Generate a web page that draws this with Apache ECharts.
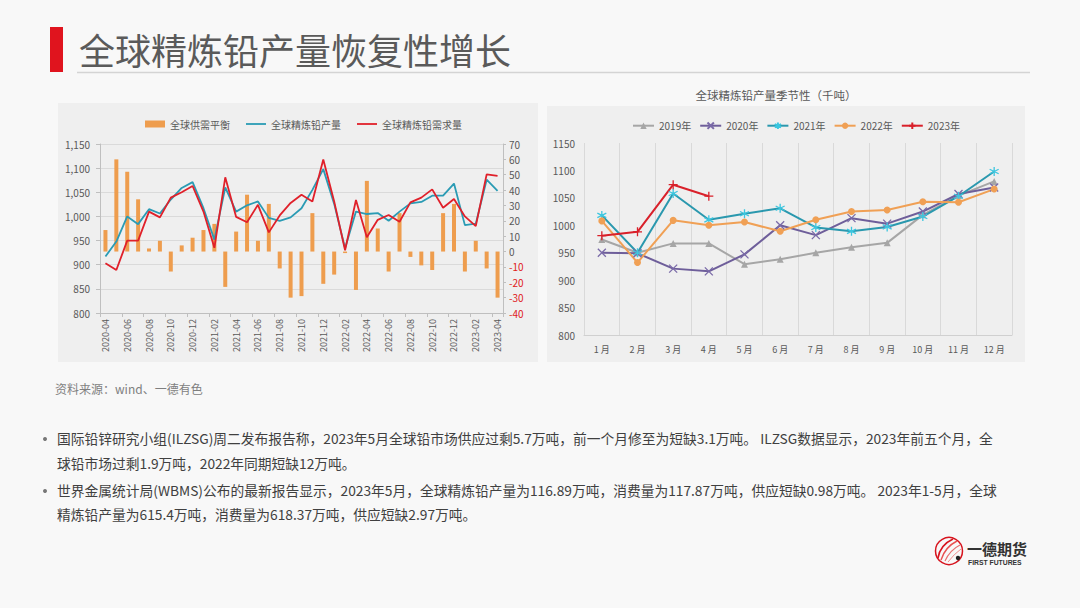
<!DOCTYPE html>
<html><head><meta charset="utf-8">
<script src="https://cdn.jsdelivr.net/npm/echarts@6/dist/echarts.min.js"></script>
<style>html,body{margin:0;padding:0;background:#f8f8f8;}#c{width:1080px;height:608px;}</style>
</head><body><div id="c"></div>
<script>
// ---- left chart data ----
const months = ['2020-04','2020-05','2020-06','2020-07','2020-08','2020-09','2020-10','2020-11','2020-12',
 '2021-01','2021-02','2021-03','2021-04','2021-05','2021-06','2021-07','2021-08','2021-09','2021-10','2021-11','2021-12',
 '2022-01','2022-02','2022-03','2022-04','2022-05','2022-06','2022-07','2022-08','2022-09','2022-10','2022-11','2022-12',
 '2023-01','2023-02','2023-03','2023-04'];
const balance = [14,60,52,34,2,7,-13,4,9, 14,18,-23,13,37,7,31,-11,-30,-29,25,-21, -15,-1,-25,46,15,-13,25,-3.5,-9,-12,25,31, -13,7,-11,-30];
const production = [917,948,1000,984,1015,1006,1035,1059,1071, 1017,952,1060,1010,1023,1031,997,991,998,1017,1055,1098, 1026,934,1010,1005,1007,991,1010,1027,1030,1043,1043,1068, 982,985,1076,1053];
const demand = [903,889,950,950,1010,998,1039,1050,1063, 1010,935,1081,999,988,1024,967,1002,1028,1045,1031,1118, 1031,930,1034,957,993,1003,989,1029,1039,1056,1018,1036, 1000,980,1087,1084];
const leftNames = ['全球供需平衡','全球精炼铅产量','全球精炼铅需求量'];
// ---- right chart data ----
const seasonMonths = ['1 月','2 月','3 月','4 月','5 月','6 月','7 月','8 月','9 月','10 月','11 月','12 月'];
const yearNames = ['2019年','2020年','2021年','2022年','2023年'];
const y2019 = [974,950,967,967,929,938,950,960,968,1019,1054,1080];
const y2020 = [950,949,921,916,947,1000,982,1013,1003,1025,1057,1069];
const y2021 = [1018,950,1058,1010,1021,1031,996,989,997,1016,1053,1098];
const y2022 = [1008,932,1009,1000,1006,989,1010,1025,1028,1043,1042,1066];
const y2023 = [981,988,1074,1053];
// ---- texts ----
const pageTitle = '全球精炼铅产量恢复性增长';
const rightTitle = '全球精炼铅产量季节性（千吨）';
const sourceText = '资料来源：wind、一德有色';
const bulletLines = [
 '国际铅锌研究小组(ILZSG)周二发布报告称，2023年5月全球铅市场供应过剩5.7万吨，前一个月修至为短缺3.1万吨。 ILZSG数据显示，2023年前五个月，全',
 '球铅市场过剩1.9万吨，2022年同期短缺12万吨。',
 '世界金属统计局(WBMS)公布的最新报告显示，2023年5月，全球精炼铅产量为116.89万吨，消费量为117.87万吨，供应短缺0.98万吨。 2023年1-5月，全球',
 '精炼铅产量为615.4万吨，消费量为618.37万吨，供应短缺2.97万吨。'
];

const FONT = '"Noto Sans CJK SC","Microsoft YaHei",sans-serif';
const chart = echarts.init(document.getElementById('c'), null, {renderer:'svg'});
const crossSym = 'path://M0,0L10,10M10,0L0,10';
const starSym = 'path://M5,0L5,10M0,2.5L10,7.5M10,2.5L0,7.5';
const plusSym = 'path://M5,0L5,10M0,5L10,5';
const lineIcon = 'path://M0,0L40,0L40,3.6L0,3.6Z';

function txt(x,y,text,size,color,extra){
  return {type:'text',x:x,y:y,silent:true,style:Object.assign({text:text,fontSize:size,fontFamily:FONT,fill:color,verticalAlign:'middle'},extra||{})};
}
const graphics = [
  {type:'rect',shape:{x:0,y:0,width:1080,height:608},style:{fill:'#f8f8f8'},z:-10,silent:true},
  {type:'rect',shape:{x:58,y:103,width:480,height:259},style:{fill:'#efefef'},z:-9,silent:true},
  {type:'rect',shape:{x:547,y:106,width:478,height:256},style:{fill:'#efefef'},z:-9,silent:true},
  {type:'rect',shape:{x:50,y:27,width:13,height:45},style:{fill:'#e0141e'},silent:true},
  {type:'line',shape:{x1:77,y1:72.5,x2:1030,y2:72.5},style:{stroke:'#d4d4d4',lineWidth:1.5},silent:true},
  txt(79,49,pageTitle,36,'#5a5a5a'),
  txt(776,95,rightTitle,11.5,'#595959',{align:'center'}),
  txt(55,388,sourceText,12,'#7f7f7f'),
  {type:'circle',shape:{cx:45,cy:439,r:2},style:{fill:'#777'},silent:true},
  txt(57,438,bulletLines[0],13.75,'#404040'),
  txt(57,463,bulletLines[1],13.75,'#404040'),
  {type:'circle',shape:{cx:45,cy:491,r:2},style:{fill:'#777'},silent:true},
  txt(57,490,bulletLines[2],13.75,'#404040'),
  txt(57,514,bulletLines[3],13.75,'#404040'),
  // logo
  {type:'circle',shape:{cx:949,cy:551,r:13.5},style:{fill:'none',stroke:'#d7141e',lineWidth:1.5},silent:true},
  {type:'bezierCurve',shape:{x1:938,y1:558,x2:953,y2:539,cpx1:940,cpy1:545},style:{fill:'none',stroke:'#d7141e',lineWidth:1.6},silent:true},
  {type:'bezierCurve',shape:{x1:941,y1:560,x2:957,y2:541,cpx1:945,cpy1:547},style:{fill:'none',stroke:'#e85050',lineWidth:1.4},silent:true},
  {type:'bezierCurve',shape:{x1:945,y1:561,x2:960,y2:545,cpx1:950,cpy1:550},style:{fill:'none',stroke:'#e87070',lineWidth:1.2},silent:true},
  {type:'bezierCurve',shape:{x1:948,y1:562,x2:961,y2:549,cpx1:954,cpy1:554},style:{fill:'none',stroke:'#f09090',lineWidth:1},silent:true},
  {type:'circle',shape:{cx:958,cy:558,r:2.2},style:{fill:'#222'},silent:true},
  txt(967,548.5,'一德期货',15,'#333',{fontWeight:'bold'}),
  txt(968,562,'FIRST FUTURES',6.8,'#333',{fontWeight:'bold',fontFamily:'"Liberation Sans",Arial,sans-serif'})
];

const axisTxt = {color:'#595959',fontSize:10,fontFamily:FONT};
const option = {
  animation:false,
  backgroundColor:'#f8f8f8',
  graphic:graphics,
  legend:[
    {left:140,top:114,itemWidth:20,itemHeight:7,itemGap:16,
     data:[{name:leftNames[0],icon:'rect'},{name:leftNames[1],icon:lineIcon},{name:leftNames[2],icon:lineIcon}],
     textStyle:{color:'#595959',fontSize:10,fontFamily:FONT}},
    {left:627,top:115,itemWidth:21,itemHeight:8,itemGap:8,data:yearNames,
     textStyle:{color:'#595959',fontSize:10,fontFamily:FONT}}
  ],
  grid:[
    {left:100,right:577,top:144,bottom:295},
    {left:584,right:68,top:143,bottom:273}
  ],
  xAxis:[
    {type:'category',gridIndex:0,data:months,boundaryGap:true,
     axisLine:{onZero:false,lineStyle:{color:'#bfbfbf'}},
     axisTick:{show:true,interval:1,length:4,lineStyle:{color:'#bfbfbf'}},
     axisLabel:{interval:1,rotate:90,color:'#595959',fontSize:9,fontFamily:FONT,margin:6}},
    {type:'category',gridIndex:1,data:seasonMonths,boundaryGap:true,
     axisLine:{lineStyle:{color:'#d0d0d0'}},axisTick:{show:false},
     splitLine:{show:true,interval:0,lineStyle:{color:'#d9d9d9'}},
     axisLabel:{color:'#595959',fontSize:9,fontFamily:FONT,margin:10}}
  ],
  yAxis:[
    {type:'value',gridIndex:0,min:800,max:1150,interval:50,
     axisLine:{show:true,lineStyle:{color:'#bfbfbf'}},axisTick:{show:true,length:4,lineStyle:{color:'#bfbfbf'}},
     splitLine:{lineStyle:{color:'#dadada'}},
     axisLabel:Object.assign({},axisTxt,{margin:10,formatter:v=>v>=1000?String(v).replace(/^(\d)(\d{3})$/,'$1,$2'):String(v)})},
    {type:'value',gridIndex:0,min:-40,max:70,interval:10,position:'right',
     axisLine:{show:true,lineStyle:{color:'#bfbfbf'}},axisTick:{show:true,length:3,lineStyle:{color:'#bfbfbf'}},
     splitLine:{show:false},
     axisLabel:{fontSize:10,fontFamily:FONT,margin:6,color:v=>(Number(v)<0?'#e02020':'#595959'),formatter:v=>String(v)}},
    {type:'value',gridIndex:1,min:800,max:1150,interval:50,
     axisLine:{show:false},axisTick:{show:false},splitLine:{show:false},
     axisLabel:Object.assign({},axisTxt,{margin:9,formatter:v=>String(v)})}
  ],
  series:[
    {name:leftNames[0],type:'bar',xAxisIndex:0,yAxisIndex:1,data:balance,barWidth:4,
     itemStyle:{color:'#ee9d4e'}},
    {name:leftNames[1],type:'line',xAxisIndex:0,yAxisIndex:0,data:production,symbol:'none',
     lineStyle:{color:'#2a9bb4',width:1.8},itemStyle:{color:'#2a9bb4'}},
    {name:leftNames[2],type:'line',xAxisIndex:0,yAxisIndex:0,data:demand,symbol:'none',
     lineStyle:{color:'#e0202a',width:1.8},itemStyle:{color:'#e0202a'}},
    {name:yearNames[0],type:'line',xAxisIndex:1,yAxisIndex:2,data:y2019,symbol:'triangle',symbolSize:7,
     lineStyle:{color:'#a6a6a6',width:2},itemStyle:{color:'#a6a6a6'}},
    {name:yearNames[1],type:'line',xAxisIndex:1,yAxisIndex:2,data:y2020,symbol:crossSym,symbolSize:8,
     lineStyle:{color:'#6e5e9a',width:2},itemStyle:{color:'none',borderColor:'#7a6aa8',borderWidth:1.3}},
    {name:yearNames[2],type:'line',xAxisIndex:1,yAxisIndex:2,data:y2021,symbol:starSym,symbolSize:9,
     lineStyle:{color:'#2a98ae',width:2},itemStyle:{color:'none',borderColor:'#3cc6df',borderWidth:1.3}},
    {name:yearNames[3],type:'line',xAxisIndex:1,yAxisIndex:2,data:y2022,symbol:'circle',symbolSize:7,
     lineStyle:{color:'#f0a055',width:2},itemStyle:{color:'#f0a055'}},
    {name:yearNames[4],type:'line',xAxisIndex:1,yAxisIndex:2,data:y2023,symbol:plusSym,symbolSize:9,
     lineStyle:{color:'#d9202a',width:2},itemStyle:{color:'none',borderColor:'#d9202a',borderWidth:1.3}}
  ]
};
chart.setOption(option);
</script></body></html>
